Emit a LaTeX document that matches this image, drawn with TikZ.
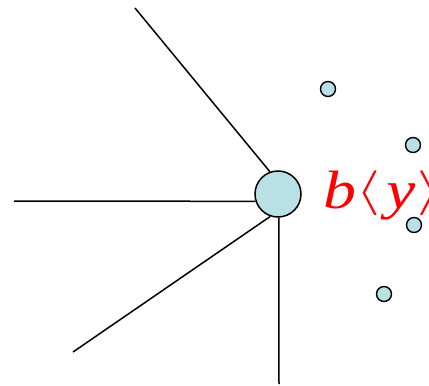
\documentclass[tikz,border=0pt]{standalone}
\usepackage{fontspec}
\usepackage{unicode-math}
\setmainfont{Liberation Serif}
\setmathfont{Latin Modern Math}
\usepackage{graphicx}
\usepackage{xcolor}
\definecolor{dotfill}{RGB}{185,224,228}
\definecolor{lblred}{RGB}{255,0,0}
\newcommand{\wideit}[1]{\scalebox{1.22}[1]{\textit{#1}}}
\newcommand{\brk}[1]{\raisebox{4pt}{\scalebox{1.35}[1]{\fontsize{45}{50}\selectfont$#1$}}}

\begin{document}
\begin{tikzpicture}[
    x=1pt, y=-1pt,
    hub/.style={circle, draw=black, fill=dotfill, line width=1.5pt,
                minimum size=46pt, inner sep=0pt},
    dot/.style={circle, draw=black, fill=dotfill, line width=1.4pt,
                minimum size=15pt, inner sep=0pt},
    spoke/.style={line width=1.5pt, draw=black},
    lbl/.style={text=lblred, inner sep=0pt, font=\fontsize{54}{60}\selectfont}
]
\useasboundingbox (0,0) rectangle (429,386);

% Centre node and its label
\node[hub] (hub) at (278,194) {};
\node[lbl, anchor=base west] (name) at (323,208)
    {\wideit{b}\hspace{0pt}\brk{\langle}\hspace{7pt}\wideit{y}\hspace{1pt}\brk{\rangle}};

% Loose dots on the right
\node[dot] (d1) at (328,89) {};
\node[dot] (d2) at (413,145) {};
\node[dot] (d3) at (414,225) {};
\node[dot] (d4) at (384,294) {};

% Free ends of the spokes
\coordinate (top) at (135,8);
\coordinate (left) at (14,201);
\coordinate (lowleft) at (73,352);
\coordinate (bottom) at (279,384);

\draw[spoke] (top) -- (hub.110);
\draw[spoke] (left) -- (hub.198);
\draw[spoke] (lowleft) -- (hub.251);
\draw[spoke] (bottom) -- (hub.272);

\end{tikzpicture}
\end{document}
